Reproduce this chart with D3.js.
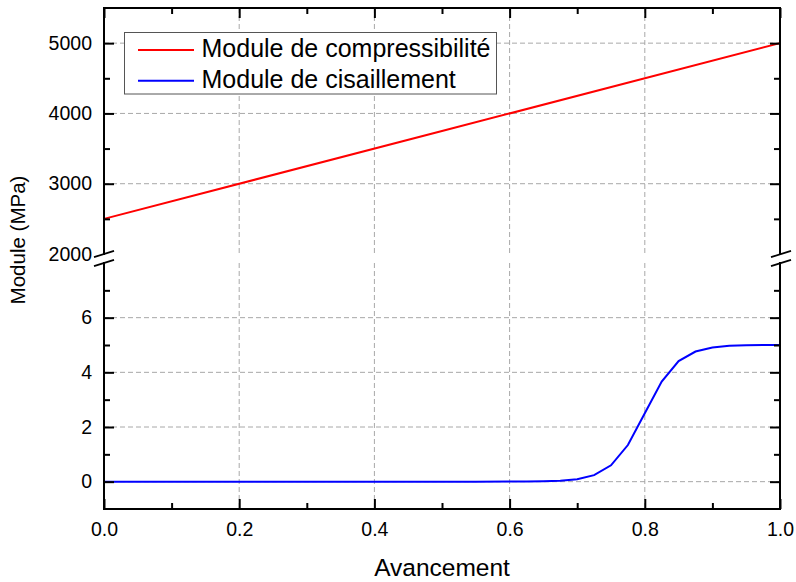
<!DOCTYPE html>
<html>
<head>
<meta charset="utf-8">
<script src="https://cdn.jsdelivr.net/npm/d3@7"></script>
<style>
  html, body { margin: 0; padding: 0; background: #fff; }
  svg { display: block; font-family: "Liberation Sans", Arial, sans-serif; }
</style>
</head>
<body>
<svg id="chart" width="796" height="582"></svg>
<script>
// Bulk modulus: straight line between its end values
const compX = [0, 0.5, 1];
const compY = [2500, 3750, 5000];

// Shear modulus versus degree of cure
const shearX = [0, 0.1, 0.2, 0.3, 0.4, 0.5, 0.55, 0.6, 0.625, 0.65, 0.675, 0.7, 0.725,
                0.75, 0.775, 0.8, 0.825, 0.85, 0.875, 0.9, 0.925, 0.95, 0.975, 1.0];
const shearY = [0, 0, 0, 0, 0, 0, 0, 0.002, 0.005, 0.012, 0.03, 0.09, 0.24,
                0.6, 1.34, 2.5, 3.66, 4.41, 4.76, 4.91, 4.97, 4.99, 5.0, 5.0];

const xTicks = [0, 0.2, 0.4, 0.6, 0.8, 1.0];
const xMinor = [0.1, 0.3, 0.5, 0.7, 0.9];
const upperTicks = [2000, 3000, 4000, 5000];
const upperMinor = [2500, 3500, 4500];
const lowerTicks = [0, 2, 4, 6];
const lowerMinor = [1, 3, 5, 7];

const seriesNames = ["Module de compressibilité", "Module de cisaillement"];
const seriesColors = ["#ff0000", "#0000ff"];

(function draw() {
  const svg = d3.select("#chart");

  const pLeft = 104, pRight = 780, pTop = 8, pBottom = 509;
  const upperBottom = 254, lowerTop = 263;

  const x = d3.scaleLinear().domain([0, 1]).range([pLeft, pRight]);
  const yUp = d3.scaleLinear().domain([2000, 5500]).range([upperBottom, pTop]);
  const yLo = d3.scaleLinear().domain([-1, 8]).range([pBottom, lowerTop]);

  const gridColor = "#a8a8a8";
  const dash = "5,3";

  // Grid lines
  const grid = svg.append("g");
  [[pTop, upperBottom], [lowerTop, pBottom]].forEach(([y0, y1]) => {
    grid.selectAll(null).data(xTicks.slice(1, -1)).enter().append("line")
      .attr("x1", d => x(d)).attr("x2", d => x(d))
      .attr("y1", y0).attr("y2", y1)
      .attr("stroke", gridColor).attr("stroke-dasharray", dash).attr("stroke-width", 1);
  });
  grid.selectAll(null).data(upperTicks.slice(1)).enter().append("line")
    .attr("x1", pLeft).attr("x2", pRight)
    .attr("y1", d => yUp(d)).attr("y2", d => yUp(d))
    .attr("stroke", gridColor).attr("stroke-dasharray", dash).attr("stroke-width", 1);
  grid.selectAll(null).data(lowerTicks).enter().append("line")
    .attr("x1", pLeft).attr("x2", pRight)
    .attr("y1", d => yLo(d)).attr("y2", d => yLo(d))
    .attr("stroke", gridColor).attr("stroke-dasharray", dash).attr("stroke-width", 1);

  // Curves
  const compLine = d3.line().x(d => x(d[0])).y(d => yUp(d[1]));
  svg.append("path")
    .datum(d3.zip(compX, compY))
    .attr("d", compLine)
    .attr("fill", "none").attr("stroke", seriesColors[0]).attr("stroke-width", 2);

  const shearLine = d3.line().x(d => x(d[0])).y(d => yLo(d[1]));
  svg.append("path")
    .datum(d3.zip(shearX, shearY))
    .attr("d", shearLine)
    .attr("fill", "none").attr("stroke", seriesColors[1]).attr("stroke-width", 2);

  // Axes (ticks point inward)
  const fontTick = "19.5px";
  function styleAxis(g, showLabels) {
    g.select(".domain").remove();
    g.selectAll(".tick line").attr("stroke", "#000").attr("stroke-width", 2);
    g.selectAll(".tick text").attr("fill", "#000").style("font-size", fontTick)
      .style("font-family", "'Liberation Sans', Arial, sans-serif");
    if (!showLabels) g.selectAll(".tick text").remove();
  }

  // bottom
  svg.append("g").attr("transform", `translate(0,${pBottom})`)
    .call(d3.axisBottom(x).tickValues(xTicks).tickSize(-10).tickPadding(13).tickFormat(d3.format(".1f")))
    .call(g => styleAxis(g, true));
  svg.append("g").attr("transform", `translate(0,${pBottom})`)
    .call(d3.axisBottom(x).tickValues(xMinor).tickSize(-6).tickFormat(""))
    .call(g => styleAxis(g, false));
  // top
  svg.append("g").attr("transform", `translate(0,${pTop})`)
    .call(d3.axisTop(x).tickValues(xTicks).tickSize(-10).tickFormat(""))
    .call(g => styleAxis(g, false));
  svg.append("g").attr("transform", `translate(0,${pTop})`)
    .call(d3.axisTop(x).tickValues(xMinor).tickSize(-6).tickFormat(""))
    .call(g => styleAxis(g, false));

  // left, upper panel
  const leftUp = svg.append("g").attr("transform", `translate(${pLeft},0)`)
    .call(d3.axisLeft(yUp).tickValues(upperTicks).tickSize(-10).tickPadding(12).tickFormat(d3.format("d")))
    .call(g => styleAxis(g, true));
  leftUp.selectAll(".tick").filter(d => d === 2000).select("line").remove();
  svg.append("g").attr("transform", `translate(${pLeft},0)`)
    .call(d3.axisLeft(yUp).tickValues(upperMinor).tickSize(-6).tickFormat(""))
    .call(g => styleAxis(g, false));
  // left, lower panel
  svg.append("g").attr("transform", `translate(${pLeft},0)`)
    .call(d3.axisLeft(yLo).tickValues(lowerTicks).tickSize(-10).tickPadding(12).tickFormat(d3.format("d")))
    .call(g => styleAxis(g, true));
  svg.append("g").attr("transform", `translate(${pLeft},0)`)
    .call(d3.axisLeft(yLo).tickValues(lowerMinor).tickSize(-6).tickFormat(""))
    .call(g => styleAxis(g, false));
  // right
  svg.append("g").attr("transform", `translate(${pRight},0)`)
    .call(d3.axisRight(yUp).tickValues(upperTicks.slice(1)).tickSize(-10).tickFormat(""))
    .call(g => styleAxis(g, false));
  svg.append("g").attr("transform", `translate(${pRight},0)`)
    .call(d3.axisRight(yUp).tickValues(upperMinor).tickSize(-6).tickFormat(""))
    .call(g => styleAxis(g, false));
  svg.append("g").attr("transform", `translate(${pRight},0)`)
    .call(d3.axisRight(yLo).tickValues(lowerTicks).tickSize(-10).tickFormat(""))
    .call(g => styleAxis(g, false));
  svg.append("g").attr("transform", `translate(${pRight},0)`)
    .call(d3.axisRight(yLo).tickValues(lowerMinor).tickSize(-6).tickFormat(""))
    .call(g => styleAxis(g, false));

  // Frame with a break between the two panels
  const frame = svg.append("g").attr("stroke", "#000").attr("stroke-width", 2).attr("fill", "none");
  frame.append("path").attr("stroke-linecap", "square")
    .attr("d", `M${pLeft},${upperBottom}V${pTop}H${pRight}V${upperBottom}`);
  frame.append("path").attr("stroke-linecap", "square")
    .attr("d", `M${pLeft},${lowerTop}V${pBottom}H${pRight}V${lowerTop}`);

  // Break marks
  [pLeft, pRight + 1].forEach(cx => {
    [upperBottom, lowerTop].forEach(cy => {
      frame.append("line")
        .attr("x1", cx - 10).attr("y1", cy + 3.2)
        .attr("x2", cx + 10).attr("y2", cy - 3.2)
        .attr("stroke-width", 1.8);
    });
  });

  // Axis titles
  svg.append("text")
    .attr("x", (pLeft + pRight) / 2).attr("y", 576)
    .attr("text-anchor", "middle").style("font-size", "24.5px").attr("fill", "#000")
    .text("Avancement");
  svg.append("text")
    .attr("transform", "translate(25,240) rotate(-90)")
    .attr("text-anchor", "middle").style("font-size", "20.5px").attr("fill", "#000")
    .text("Module (MPa)");

  // Legend
  const legend = svg.append("g");
  legend.append("rect")
    .attr("x", 124.5).attr("y", 32.5).attr("width", 372).attr("height", 61.5)
    .attr("fill", "#fff").attr("stroke", "#555").attr("stroke-width", 1);
  const legendY = [50, 80.7];
  seriesNames.forEach((name, i) => {
    legend.append("line")
      .attr("x1", 138).attr("x2", 194)
      .attr("y1", legendY[i]).attr("y2", legendY[i])
      .attr("stroke", seriesColors[i]).attr("stroke-width", 2);
    legend.append("text")
      .attr("x", 201.5).attr("y", legendY[i] + 6.8)
      .style("font-size", "25px").attr("fill", "#000")
      .text(name);
  });
})();
</script>
</body>
</html>
